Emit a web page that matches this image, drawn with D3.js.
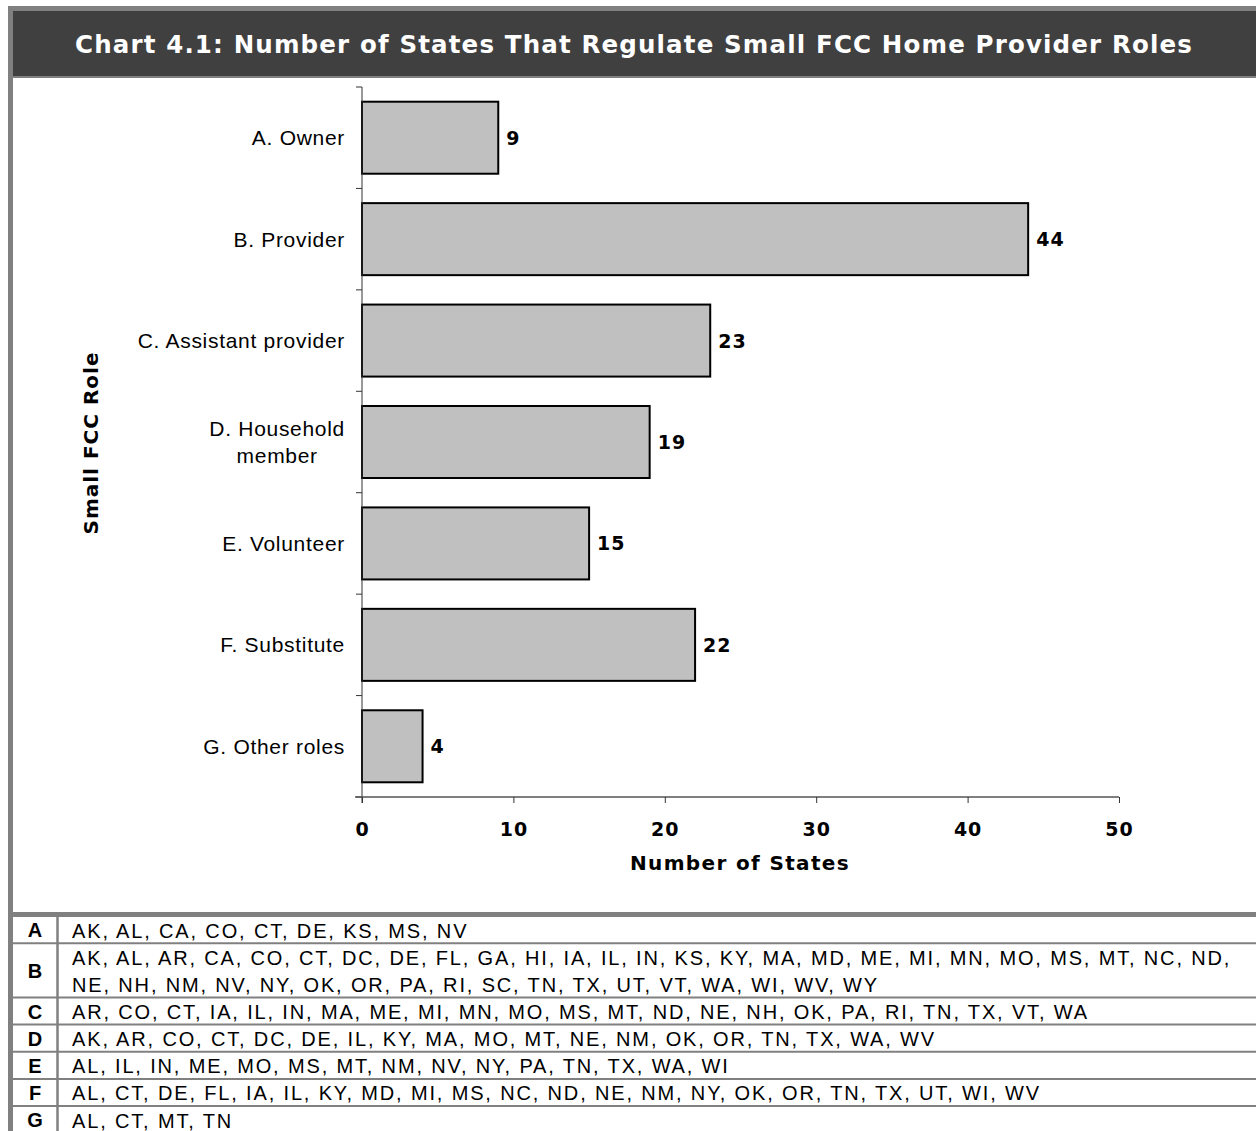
<!DOCTYPE html>
<html>
<head>
<meta charset="utf-8">
<script src="https://cdn.jsdelivr.net/npm/d3@7"></script>
<style>
  html, body { margin: 0; padding: 0; background: #ffffff; }
  svg { display: block; }
</style>
</head>
<body>
<script>
// ---------- data ----------
const chartTitle = "Chart 4.1: Number of States That Regulate Small FCC Home Provider Roles";
const categories = ["A. Owner", "B. Provider", "C. Assistant provider", "D. Household\nmember", "E. Volunteer", "F. Substitute", "G. Other roles"];
const values = [9, 44, 23, 19, 15, 22, 4];
const xTicks = [0, 10, 20, 30, 40, 50];
const xTitle = "Number of States";
const yTitle = "Small FCC Role";
const rowKeys = ["A", "B", "C", "D", "E", "F", "G"];
const stateLists = [
  "AK, AL, CA, CO, CT, DE, KS, MS, NV",
  "AK, AL, AR, CA, CO, CT, DC, DE, FL, GA, HI, IA, IL, IN, KS, KY, MA, MD, ME, MI, MN, MO, MS, MT, NC, ND, NE, NH, NM, NV, NY, OK, OR, PA, RI, SC, TN, TX, UT, VT, WA, WI, WV, WY",
  "AR, CO, CT, IA, IL, IN, MA, ME, MI, MN, MO, MS, MT, ND, NE, NH, OK, PA, RI, TN, TX, VT, WA",
  "AK, AR, CO, CT, DC, DE, IL, KY, MA, MO, MT, NE, NM, OK, OR, TN, TX, WA, WV",
  "AL, IL, IN, ME, MO, MS, MT, NM, NV, NY, PA, TN, TX, WA, WI",
  "AL, CT, DE, FL, IA, IL, KY, MD, MI, MS, NC, ND, NE, NM, NY, OK, OR, TN, TX, UT, WI, WV",
  "AL, CT, MT, TN"
];

// ---------- layout ----------
const W = 1256, H = 1131;
const boldFont = "'DejaVu Sans', Verdana, sans-serif";
const regFont = "'Liberation Sans', Arial, sans-serif";
const gray = "#808080";

const svg = d3.select("body").append("svg").attr("width", W).attr("height", H);

function fitWidth(sel, target) {
  const node = sel.node();
  const len = node.getComputedTextLength();
  const n = node.textContent.length;
  sel.attr("letter-spacing", ((target - len) / n).toFixed(3));
}

// frame
svg.append("rect").attr("x", 8).attr("y", 6).attr("width", W - 8).attr("height", H - 6).attr("fill", gray);
svg.append("rect").attr("x", 13).attr("y", 11).attr("width", W - 13).attr("height", 65).attr("fill", "#404040");
svg.append("rect").attr("x", 13).attr("y", 78).attr("width", W - 13).attr("height", 834).attr("fill", "#ffffff");

// title
const t = svg.append("text").attr("x", 634).attr("y", 53)
  .attr("text-anchor", "middle").attr("fill", "#ffffff")
  .attr("font-family", boldFont).attr("font-weight", "bold").attr("font-size", 24.5)
  .text(chartTitle);
fitWidth(t, 1118);

// ---------- chart ----------
const x = d3.scaleLinear().domain([0, 50]).range([362, 1119]);
const y = d3.scaleBand().domain(categories).range([87, 797]).paddingInner(0.29).paddingOuter(0.145);

const g = svg.append("g");

g.selectAll("rect.bar").data(values).join("rect")
  .attr("class", "bar")
  .attr("x", x(0))
  .attr("y", (d, i) => y(categories[i]))
  .attr("width", d => x(d) - x(0))
  .attr("height", y.bandwidth())
  .attr("fill", "#c0c0c0").attr("stroke", "#000").attr("stroke-width", 2);

const y0 = y.range()[0], step = y.step();
g.append("line").attr("x1", x(0)).attr("x2", x(0)).attr("y1", y0).attr("y2", y.range()[1] + 6)
  .attr("stroke", "#333").attr("stroke-width", 1);
g.selectAll("line.ytick").data(d3.range(categories.length + 1)).join("line")
  .attr("class", "ytick")
  .attr("x1", x(0) - 6).attr("x2", x(0))
  .attr("y1", i => y0 + i * step).attr("y2", i => y0 + i * step)
  .attr("stroke", "#333").attr("stroke-width", 1);

const xAxis = d3.axisBottom(x).tickValues(xTicks).tickSize(6).tickPadding(20).tickSizeOuter(0);
const xg = g.append("g").attr("transform", `translate(0,${y.range()[1]})`).call(xAxis);
xg.select(".domain").attr("stroke", "#555").attr("stroke-width", 1.5).attr("d", `M${x(0) - 7},0H${x(50)}`);
xg.selectAll(".tick line").attr("stroke", "#333");
xg.selectAll(".tick text").attr("font-family", boldFont).attr("font-weight", "bold")
  .attr("font-size", 19).attr("fill", "#000").attr("letter-spacing", 1);

categories.forEach((c, i) => {
  const lines = c.split("\n");
  const cy = y(c) + y.bandwidth() / 2;
  const lh = 27;
  const txt = g.append("text")
    .attr("font-family", regFont).attr("font-size", 21).attr("fill", "#000")
    .attr("letter-spacing", 0.7);
  lines.forEach((ln, k) => {
    txt.append("tspan").attr("y", cy + (k - (lines.length - 1) / 2) * lh + 7.5).text(ln);
  });
  if (lines.length === 1) {
    txt.attr("text-anchor", "end").selectAll("tspan").attr("x", 345);
  } else {
    const w0 = txt.select("tspan").node().getComputedTextLength();
    txt.attr("text-anchor", "middle").selectAll("tspan").attr("x", 345 - w0 / 2);
  }
});

g.selectAll("text.val").data(values).join("text")
  .attr("class", "val")
  .attr("x", d => x(d) + 8)
  .attr("y", (d, i) => y(categories[i]) + y.bandwidth() / 2 + 7)
  .attr("font-family", boldFont).attr("font-weight", "bold").attr("font-size", 19)
  .attr("letter-spacing", 1)
  .text(d => d);

const xt = g.append("text").attr("x", 740).attr("y", 870).attr("text-anchor", "middle")
  .attr("font-family", boldFont).attr("font-weight", "bold").attr("font-size", 20)
  .text(xTitle);
fitWidth(xt, 220);
const yt = g.append("text").attr("transform", "translate(98,443) rotate(-90)").attr("text-anchor", "middle")
  .attr("font-family", boldFont).attr("font-weight", "bold").attr("font-size", 20)
  .text(yTitle);
fitWidth(yt, 183);

// ---------- table ----------
const tableTop = 916, lineH = 27.15, textX = 72, maxW = 1170;
const tFont = 20, tSpace = 1.85;
const tg = svg.append("g");
const measure = svg.append("text").attr("font-family", regFont).attr("font-size", tFont).attr("letter-spacing", tSpace);
function wrap(s) {
  const parts = s.split(", ");
  const lines = [];
  let cur = "";
  parts.forEach((p, i) => {
    const piece = p + (i < parts.length - 1 ? "," : "");
    const cand = cur ? cur + " " + piece : piece;
    measure.text(cand);
    if (cur && measure.node().getComputedTextLength() > maxW) { lines.push(cur); cur = piece; }
    else cur = cand;
  });
  lines.push(cur);
  return lines;
}
const wrapped = stateLists.map(wrap);
measure.remove();

let yy = tableTop;
const rowTops = [];
wrapped.forEach(ls => { rowTops.push(yy); yy += ls.length * lineH; });

tg.append("rect").attr("x", 13).attr("y", tableTop).attr("width", W - 13).attr("height", H - tableTop).attr("fill", "#fff");
tg.append("rect").attr("x", 13).attr("y", 912).attr("width", W - 13).attr("height", 5).attr("fill", gray);

rowKeys.forEach((k, i) => {
  const top = rowTops[i];
  const ls = wrapped[i];
  const h = ls.length * lineH;
  if (i > 0) tg.append("line").attr("x1", 13).attr("x2", W).attr("y1", top).attr("y2", top)
    .attr("stroke", gray).attr("stroke-width", 2);
  tg.append("text").attr("x", 35).attr("y", top + h / 2 + 7.5).attr("text-anchor", "middle")
    .attr("font-family", regFont).attr("font-weight", "bold").attr("font-size", tFont).text(k);
  ls.forEach((ln, j) => {
    tg.append("text").attr("x", textX).attr("y", top + j * lineH + 21.5)
      .attr("font-family", regFont).attr("font-size", tFont).attr("letter-spacing", tSpace)
      .attr("fill", "#000").text(ln);
  });
});
tg.append("line").attr("x1", 57.5).attr("x2", 57.5).attr("y1", tableTop).attr("y2", H)
  .attr("stroke", gray).attr("stroke-width", 2.5);
</script>
</body>
</html>
